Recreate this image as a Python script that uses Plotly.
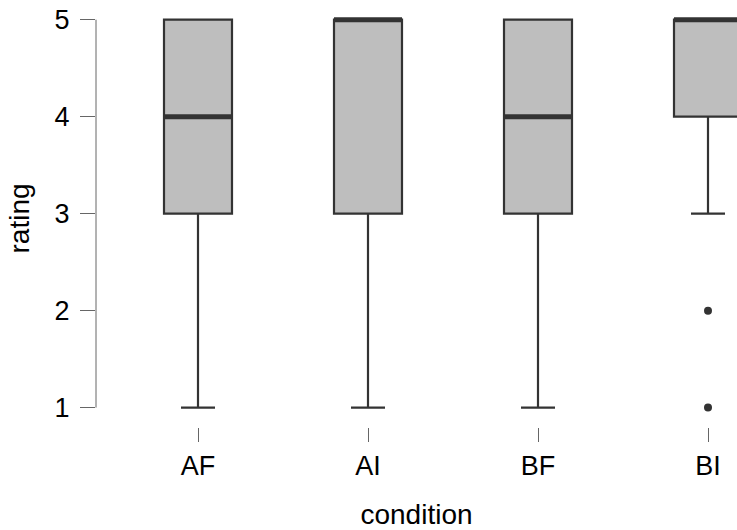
import plotly.graph_objects as go

conditions = ["AF", "AI", "BF", "BI"]
q1 = [3, 3, 3, 4]
median = [4, 5, 4, 5]
q3 = [5, 5, 5, 5]
lower_whisker = [1, 1, 1, 3]
upper_whisker = [5, 5, 5, 5]
outlier_condition = ["BI", "BI"]
outlier_rating = [2, 1]
y_ticks = [1, 2, 3, 4, 5]

pos = list(range(len(conditions)))
half = 0.2

fig = go.Figure()
fig.add_trace(go.Box(
    x=pos, q1=q1, median=median, q3=q3,
    lowerfence=lower_whisker, upperfence=upper_whisker,
    width=2 * half, whiskerwidth=0.5,
    fillcolor="#BEBEBE",
    line=dict(color="#333333", width=2.2),
    boxpoints=False, showlegend=False, hoverinfo="skip",
))

mx, my = [], []
for p, m in zip(pos, median):
    mx += [p - half, p + half, None]
    my += [m, m, None]
fig.add_trace(go.Scatter(x=mx, y=my, mode="lines",
                         line=dict(color="#333333", width=5),
                         showlegend=False, hoverinfo="skip"))

ox = [conditions.index(c) for c in outlier_condition]
fig.add_trace(go.Scatter(x=ox, y=outlier_rating, mode="markers",
                         marker=dict(color="#333333", size=8),
                         showlegend=False, hoverinfo="skip"))

# y axis line from first to last tick (R-style)
fig.add_shape(type="line", xref="paper", yref="y", x0=0, x1=0,
              y0=min(y_ticks), y1=max(y_ticks),
              line=dict(color="#666666", width=1))

family = "Liberation Sans, Arial, sans-serif"
tick_font = dict(family=family, size=27, color="#000000")
title_font = dict(family=family, size=28, color="#000000")

fig.update_layout(
    width=737, height=530,
    margin=dict(l=96, r=0, t=10, b=103, autoexpand=False),
    paper_bgcolor="white", plot_bgcolor="white",
    font=tick_font,
    xaxis=dict(
        range=[-0.6, 3.1706], tickvals=pos, ticktext=conditions,
        showgrid=False, zeroline=False, showline=False,
        ticks="outside", ticklen=14, tickcolor="#666666", tickwidth=1,
        tickfont=tick_font, automargin=False, ticklabelstandoff=1,
        title=dict(text="condition", font=title_font, standoff=27),
    ),
    yaxis=dict(
        range=[0.8, 5.1], tickvals=y_ticks,
        showgrid=False, zeroline=False, showline=False,
        ticks="outside", ticklen=15, tickcolor="#666666", tickwidth=1,
        tickfont=tick_font, automargin=False, ticklabelstandoff=5,
        title=dict(text="rating", font=title_font, standoff=16),
    ),
)

fig.write_html(
    "out.html",
    config={"displayModeBar": False},
    post_script="document.body.style.margin='0';document.body.style.overflow='hidden';",
)
